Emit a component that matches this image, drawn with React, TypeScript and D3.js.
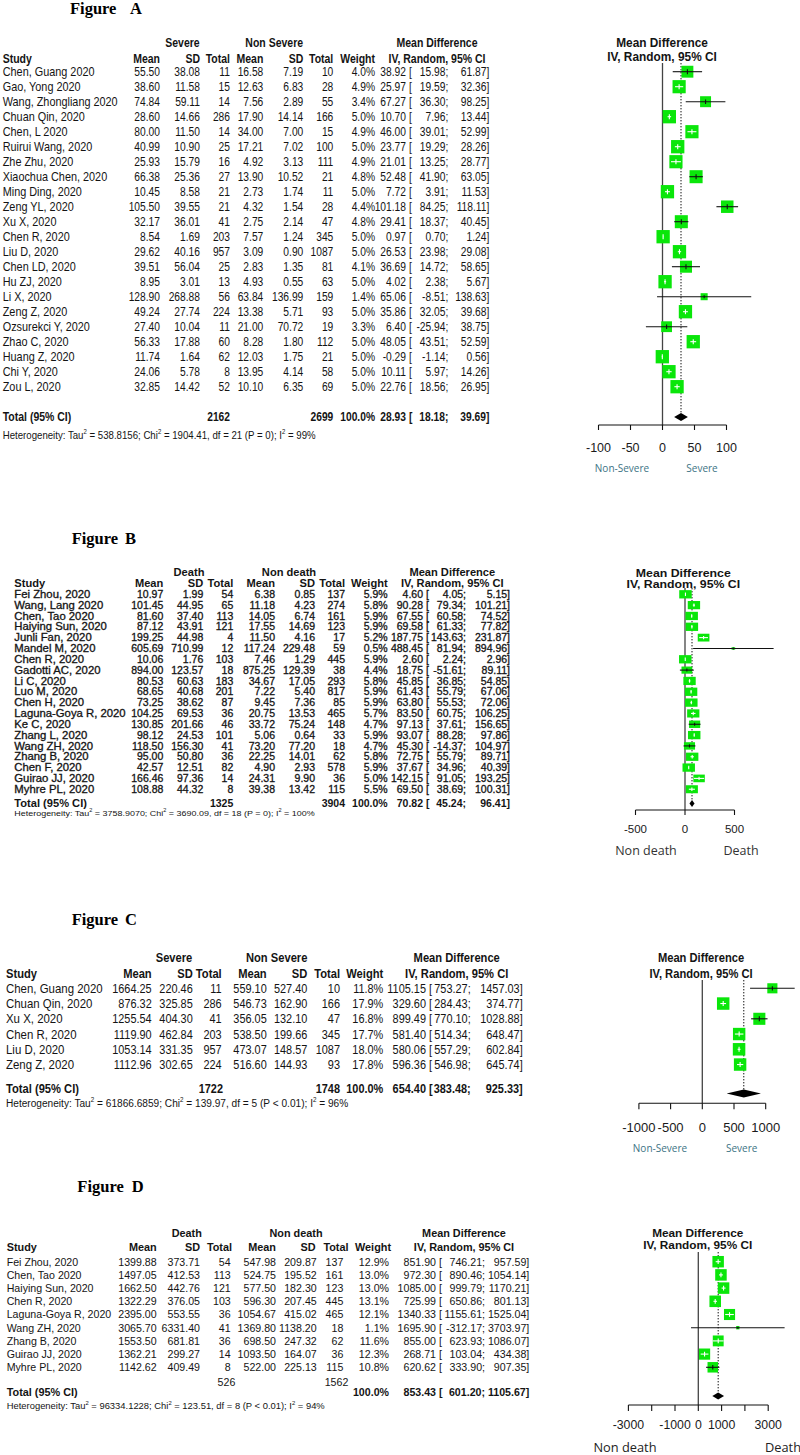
import React from "react";
import * as d3 from "d3";

// ---------------- Panel A data (Severe vs Non Severe) ----------------
const studiesA = ["Chen, Guang 2020", "Gao, Yong 2020", "Wang, Zhongliang 2020", "Chuan Qin, 2020", "Chen, L 2020", "Ruirui Wang, 2020", "Zhe Zhu, 2020", "Xiaochua Chen, 2020", "Ming Ding, 2020", "Zeng YL, 2020", "Xu X, 2020", "Chen R, 2020", "Liu D, 2020", "Chen LD, 2020", "Hu ZJ, 2020", "Li X, 2020", "Zeng Z, 2020", "Ozsurekci Y, 2020", "Zhao C, 2020", "Huang Z, 2020", "Chi Y, 2020", "Zou L, 2020"];
const meanEA = [55.5, 38.6, 74.84, 28.6, 80.0, 40.99, 25.93, 66.38, 10.45, 105.5, 32.17, 8.54, 29.62, 39.51, 8.95, 128.9, 49.24, 27.4, 56.33, 11.74, 24.06, 32.85];
const sdEA = [38.08, 11.58, 59.11, 14.66, 11.5, 10.9, 15.79, 25.36, 8.58, 39.55, 36.01, 1.69, 40.16, 56.04, 3.01, 268.88, 27.74, 10.04, 17.88, 1.64, 5.78, 14.42];
const nEA = [11, 15, 14, 286, 14, 25, 16, 27, 21, 21, 41, 203, 957, 25, 13, 56, 224, 11, 60, 62, 8, 52];
const meanCA = [16.58, 12.63, 7.56, 17.9, 34.0, 17.21, 4.92, 13.9, 2.73, 4.32, 2.75, 7.57, 3.09, 2.83, 4.93, 63.84, 13.38, 21.0, 8.28, 12.03, 13.95, 10.1];
const sdCA = [7.19, 6.83, 2.89, 14.14, 7.0, 7.02, 3.13, 10.52, 1.74, 1.54, 2.14, 1.24, 0.9, 1.35, 0.55, 136.99, 5.71, 70.72, 1.8, 1.75, 4.14, 6.35];
const nCA = [10, 28, 55, 166, 15, 100, 111, 21, 11, 28, 47, 345, 1087, 81, 63, 159, 93, 19, 112, 21, 58, 69];
const weightA = [4.0, 4.9, 3.4, 5.0, 4.9, 5.0, 4.9, 4.8, 5.0, 4.4, 4.8, 5.0, 5.0, 4.1, 5.0, 1.4, 5.0, 3.3, 5.0, 5.0, 5.0, 5.0];
const mdA = [38.92, 25.97, 67.27, 10.7, 46.0, 23.77, 21.01, 52.48, 7.72, 101.18, 29.41, 0.97, 26.53, 36.69, 4.02, 65.06, 35.86, 6.4, 48.05, -0.29, 10.11, 22.76];
const loA = [15.98, 19.59, 36.3, 7.96, 39.01, 19.29, 13.25, 41.9, 3.91, 84.25, 18.37, 0.7, 23.98, 14.72, 2.38, -8.51, 32.05, -25.94, 43.51, -1.14, 5.97, 18.56];
const hiA = [61.87, 32.36, 98.25, 13.44, 52.99, 28.26, 28.77, 63.05, 11.53, 118.11, 40.45, 1.24, 29.08, 58.65, 5.67, 138.63, 39.68, 38.75, 52.59, 0.56, 14.26, 26.95];
const totalsA = [2162, 2699];
const summaryA = [28.93, 18.18, 39.69];
const hetA = ["Heterogeneity: Tau", "2", " = 538.8156; Chi", "2", " = 1904.41, df = 21 (P = 0); I", "2", " = 99%"];
const ticksA = [-100, -50, 0, 50, 100];
const tickLabelsA = [-100, -50, 0, 50, 100];

// ---------------- Panel B data (Death vs Non death) ----------------
const studiesB = ["Fei Zhou, 2020", "Wang, Lang 2020", "Chen, Tao 2020", "Haiying Sun, 2020", "Junli Fan, 2020", "Mandel M, 2020", "Chen R, 2020", "Gadotti AC, 2020", "Li C, 2020", "Luo M, 2020", "Chen H, 2020", "Laguna-Goya R, 2020", "Ke C, 2020", "Zhang L, 2020", "Wang ZH, 2020", "Zhang B, 2020", "Chen F, 2020", "Guirao JJ, 2020", "Myhre PL, 2020"];
const meanEB = [10.97, 101.45, 81.6, 87.12, 199.25, 605.69, 10.06, 894.0, 80.53, 68.65, 73.25, 104.25, 130.85, 98.12, 118.5, 95.0, 42.57, 166.46, 108.88];
const sdEB = [1.99, 44.95, 37.4, 43.91, 44.98, 710.99, 1.76, 123.57, 60.63, 40.68, 38.62, 69.53, 201.66, 24.53, 156.3, 50.8, 12.51, 97.36, 44.32];
const nEB = [54, 65, 113, 121, 4, 12, 103, 18, 183, 201, 87, 36, 46, 101, 41, 36, 82, 14, 8];
const meanCB = [6.38, 11.18, 14.05, 17.55, 11.5, 117.24, 7.46, 875.25, 34.67, 7.22, 9.45, 20.75, 33.72, 5.06, 73.2, 22.25, 4.9, 24.31, 39.38];
const sdCB = [0.85, 4.23, 6.74, 14.69, 4.16, 229.48, 1.29, 129.39, 17.05, 5.4, 7.36, 13.53, 75.24, 0.64, 77.2, 14.01, 2.93, 9.9, 13.42];
const nCB = [137, 274, 161, 123, 17, 59, 445, 38, 293, 817, 85, 465, 148, 33, 18, 62, 578, 36, 115];
const weightB = [5.9, 5.8, 5.9, 5.9, 5.2, 0.5, 5.9, 4.4, 5.8, 5.9, 5.9, 5.7, 4.7, 5.9, 4.7, 5.8, 5.9, 5.0, 5.5];
const mdB = [4.6, 90.28, 67.55, 69.58, 187.75, 488.45, 2.6, 18.75, 45.85, 61.43, 63.8, 83.5, 97.13, 93.07, 45.3, 72.75, 37.67, 142.15, 69.5];
const loB = [4.05, 79.34, 60.58, 61.33, 143.63, 81.94, 2.24, -51.61, 36.85, 55.79, 55.53, 60.75, 37.61, 88.28, -14.37, 55.79, 34.96, 91.05, 38.69];
const hiB = [5.15, 101.21, 74.52, 77.82, 231.87, 894.96, 2.96, 89.11, 54.85, 67.06, 72.06, 106.25, 156.65, 97.86, 104.97, 89.71, 40.39, 193.25, 100.31];
const totalsB = [1325, 3904];
const summaryB = [70.82, 45.24, 96.41];
const hetB = ["Heterogeneity: Tau", "2", " = 3758.9070; Chi", "2", " = 3690.09, df = 18 (P = 0); I", "2", " = 100%"];
const ticksB = [-500, 0, 500];
const tickLabelsB = [-500, 0, 500];

// ---------------- Panel C data (Severe vs Non Severe) ----------------
const studiesC = ["Chen, Guang 2020", "Chuan Qin, 2020", "Xu X, 2020", "Chen R, 2020", "Liu D, 2020", "Zeng Z, 2020"];
const meanEC = [1664.25, 876.32, 1255.54, 1119.9, 1053.14, 1112.96];
const sdEC = [220.46, 325.85, 404.3, 462.84, 331.35, 302.65];
const nEC = [11, 286, 41, 203, 957, 224];
const meanCC = [559.1, 546.73, 356.05, 538.5, 473.07, 516.6];
const sdCC = [527.4, 162.9, 132.1, 199.66, 148.57, 144.93];
const nCC = [10, 166, 47, 345, 1087, 93];
const weightC = [11.8, 17.9, 16.8, 17.7, 18.0, 17.8];
const mdC = [1105.15, 329.6, 899.49, 581.4, 580.06, 596.36];
const loC = [753.27, 284.43, 770.1, 514.34, 557.29, 546.98];
const hiC = [1457.03, 374.77, 1028.88, 648.47, 602.84, 645.74];
const totalsC = [1722, 1748];
const summaryC = [654.4, 383.48, 925.33];
const hetC = ["Heterogeneity: Tau", "2", " = 61866.6859; Chi", "2", " = 139.97, df = 5 (P < 0.01); I", "2", " = 96%"];
const ticksC = [-1000, -500, 0, 500, 1000];
const tickLabelsC = [-1000, -500, 0, 500, 1000];

// ---------------- Panel D data (Death vs Non death) ----------------
const studiesD = ["Fei Zhou, 2020", "Chen, Tao 2020", "Haiying Sun, 2020", "Chen R, 2020", "Laguna-Goya R, 2020", "Wang ZH, 2020", "Zhang B, 2020", "Guirao JJ, 2020", "Myhre PL, 2020"];
const meanED = [1399.88, 1497.05, 1662.5, 1322.29, 2395.0, 3065.7, 1553.5, 1362.21, 1142.62];
const sdED = [373.71, 412.53, 442.76, 376.05, 553.55, 6331.4, 681.81, 299.27, 409.49];
const nED = [54, 113, 121, 103, 36, 41, 36, 14, 8];
const meanCD = [547.98, 524.75, 577.5, 596.3, 1054.67, 1369.8, 698.5, 1093.5, 522.0];
const sdCD = [209.87, 195.52, 182.3, 207.45, 415.02, 1138.2, 247.32, 164.07, 225.13];
const nCD = [137, 161, 123, 445, 465, 18, 62, 36, 115];
const weightD = [12.9, 13.0, 13.0, 13.1, 12.1, 1.1, 11.6, 12.3, 10.8];
const mdD = [851.9, 972.3, 1085.0, 725.99, 1340.33, 1695.9, 855.0, 268.71, 620.62];
const loD = [746.21, 890.46, 999.79, 650.86, 1155.61, -312.17, 623.93, 103.04, 333.9];
const hiD = [957.59, 1054.14, 1170.21, 801.13, 1525.04, 3703.97, 1086.07, 434.38, 907.35];
const totalsD = [526, 1562];
const summaryD = [853.43, 601.2, 1105.67];
const hetD = ["Heterogeneity: Tau", "2", " = 96334.1228; Chi", "2", " = 123.51, df = 8 (P < 0.01); I", "2", " = 94%"];
const ticksD = [-3000, -2000, -1000, 0, 1000, 2000, 3000];
const tickLabelsD = [-3000, -1000, 0, 1000, 3000];

const headerCols = ["Mean", "SD", "Total", "Mean", "SD", "Total", "Weight"];

const SANS = "'Liberation Sans', Arial, Helvetica, sans-serif";
const SERIF = "'Liberation Serif', 'Times New Roman', serif";
const SOFT = "'Open Sans', 'Noto Sans', sans-serif";
const TXT = "#141414";
const GREEN = "#0ae60a";

const f2 = (v: number) => v.toFixed(2);

function Txt({ x, y, sx = 1, size, anchor = "start", bold = false, fill = TXT, family = SANS, heavy = 0, children }: any) {
  return (
    <text
      transform={`translate(${x},${y + size * 0.35}) scale(${sx},1)`}
      fontSize={size}
      textAnchor={anchor}
      fontWeight={bold ? 700 : 400}
      fill={fill}
      stroke={heavy > 0 ? fill : undefined}
      strokeWidth={heavy > 0 ? heavy : undefined}
      fontFamily={family}
      style={{ whiteSpace: "pre" }}
    >
      {children}
    </text>
  );
}

function Het({ x, y, size, sx, parts }: any) {
  return (
    <text
      transform={`translate(${x},${y + size * 0.35}) scale(${sx},1)`}
      fontSize={size}
      fill={TXT}
      fontFamily={SANS}
      style={{ whiteSpace: "pre" }}
    >
      {parts.map((p: string, i: number) =>
        i % 2 === 1 ? (
          <tspan key={i} dy={-size * 0.42} fontSize={size * 0.62}>{p}</tspan>
        ) : (
          <tspan key={i} dy={i === 0 ? undefined : size * 0.42}>{p}</tspan>
        )
      )}
    </text>
  );
}

function Panel({ d, t, p }: any) {
  const x = d3.scaleLinear().domain(p.domain).range(p.range);
  const rowY = (i: number) => t.row0 + i * t.rowH;
  const cols: string[][] = [
    d.meanE.map(f2), d.sdE.map(f2), d.nE.map(String),
    d.meanC.map(f2), d.sdC.map(f2), d.nC.map(String),
    d.weight.map((w: number) => w.toFixed(1) + "%"),
  ];
  const [sm, slo, shi] = d.summary;
  const dTop = p.diamondY - p.diamondH / 2;
  const hv = t.heavy || 0;

  return (
    <g>
      {/* Title */}
      <text x={t.titleX} y={t.titleY} fontFamily={SERIF} fontWeight="bold" fontSize={16.5} fill="#000">Figure</text>
      <text x={t.titleLX} y={t.titleY} fontFamily={SERIF} fontWeight="bold" fontSize={16.5} fill="#000">{d.label}</text>

      {/* Table header */}
      <Txt x={t.grp1X} y={t.h1Y} sx={t.hsx} size={t.size} anchor="middle" bold>{d.groupE}</Txt>
      <Txt x={t.grp2X} y={t.h1Y} sx={t.hsx} size={t.size} anchor="middle" bold>{d.groupC}</Txt>
      <Txt x={t.mdX} y={t.h1Y} sx={t.hsx} size={t.size} anchor="middle" bold>Mean Difference</Txt>
      <Txt x={t.studyX} y={t.h2Y} sx={t.hsx} size={t.size} bold>Study</Txt>
      {headerCols.map((h, k) => (
        <Txt key={k} x={t.hColX[k]} y={t.h2Y} sx={t.hsx} size={t.size} anchor="end" bold>{h}</Txt>
      ))}
      <Txt x={t.mdX} y={t.h2Y} sx={t.hsx} size={t.size} anchor="middle" bold>IV, Random, 95% CI</Txt>

      {/* Rows */}
      {d.study.map((s: string, i: number) => (
        <g key={i}>
          <Txt x={t.studyX} y={rowY(i)} sx={t.sx} size={t.size} heavy={hv}>{s}</Txt>
          {cols.map((c, k) => (
            <Txt key={k} x={t.colX[k]} y={rowY(i)} sx={t.nsx} size={t.size} anchor="end" heavy={hv}>{c[i]}</Txt>
          ))}
          <Txt x={t.estX} y={rowY(i)} sx={t.nsx} size={t.size} anchor="end" heavy={hv}>{f2(d.md[i])}</Txt>
          <Txt x={t.brX} y={rowY(i)} sx={t.nsx} size={t.size} heavy={hv}>[</Txt>
          <Txt x={t.loX} y={rowY(i)} sx={t.nsx} size={t.size} anchor="end" heavy={hv}>{f2(d.lo[i]) + ";"}</Txt>
          <Txt x={t.hiX} y={rowY(i)} sx={t.nsx} size={t.size} anchor="end" heavy={hv}>{f2(d.hi[i]) + "]"}</Txt>
        </g>
      ))}

      {/* Total row */}
      <Txt x={t.studyX} y={t.totalY} sx={t.hsx} size={t.size} bold>Total (95% CI)</Txt>
      <Txt x={t.totNEx} y={t.totNY} sx={t.nsx} size={t.size} anchor="end" bold={t.totNBold}>{String(d.totals[0])}</Txt>
      <Txt x={t.totNCx} y={t.totNY} sx={t.nsx} size={t.size} anchor="end" bold={t.totNBold}>{String(d.totals[1])}</Txt>
      <Txt x={t.colX[6]} y={t.totalY} sx={t.nsx} size={t.size} anchor="end" bold>100.0%</Txt>
      <Txt x={t.estX} y={t.totalY} sx={t.nsx} size={t.size} anchor="end" bold>{f2(sm)}</Txt>
      <Txt x={t.brX} y={t.totalY} sx={t.nsx} size={t.size} bold>[</Txt>
      <Txt x={t.loX} y={t.totalY} sx={t.nsx} size={t.size} anchor="end" bold>{f2(slo) + ";"}</Txt>
      <Txt x={t.hiX} y={t.totalY} sx={t.nsx} size={t.size} anchor="end" bold>{f2(shi) + "]"}</Txt>
      <Het x={t.studyX} y={t.hetY} size={t.hetSize} sx={t.hetSx} parts={d.het} />

      {/* Forest plot header */}
      <Txt x={p.headerX} y={p.hY1} sx={p.hSx} size={p.hSize} anchor="middle" bold>Mean Difference</Txt>
      <Txt x={p.headerX} y={p.hY2} sx={p.hSx} size={p.hSize} anchor="middle" bold>IV, Random, 95% CI</Txt>

      {/* zero line */}
      <line x1={x(0)} x2={x(0)} y1={p.topY} y2={p.axisY} stroke="#444" strokeWidth={1.3} />
      {/* summary dotted line */}
      <line x1={x(sm)} x2={x(sm)} y1={p.topY} y2={dTop} stroke="#111" strokeWidth={1} strokeDasharray="1.4 1.6" />

      {/* study marks */}
      {d.study.map((s: string, i: number) => {
        const cy = rowY(i);
        const cx = x(d.md[i]);
        const h = p.sqBase * Math.sqrt(d.weight[i] / p.sqRef);
        const w = h * p.sqAspect;
        const xl = x(d.lo[i]);
        const xh = x(d.hi[i]);
        const inside = xl >= cx - w / 2 && xh <= cx + w / 2;
        const col = inside ? "#ffffff" : "#111111";
        const tick = Math.max(2, Math.min(h * 0.42, 5));
        return (
          <g key={i}>
            <rect x={cx - w / 2} y={cy - h / 2} width={w} height={h} fill={GREEN} />
            <line x1={xl} x2={xh} y1={cy} y2={cy} stroke={col} strokeWidth={1.1} />
            <line x1={cx} x2={cx} y1={cy - tick / 2} y2={cy + tick / 2} stroke={col} strokeWidth={1.1} />
          </g>
        );
      })}

      {/* summary diamond */}
      <path
        d={`M${x(slo)},${p.diamondY} L${x(sm)},${p.diamondY - p.diamondH / 2} L${x(shi)},${p.diamondY} L${x(sm)},${p.diamondY + p.diamondH / 2} Z`}
        fill="#000"
      />

      {/* axis */}
      <line x1={x(p.ticks[0])} x2={x(p.ticks[p.ticks.length - 1])} y1={p.axisY} y2={p.axisY} stroke="#111" strokeWidth={1.1} />
      {p.ticks.map((tk: number) => (
        <line key={tk} x1={x(tk)} x2={x(tk)} y1={p.axisY} y2={p.axisY + p.tickLen} stroke="#111" strokeWidth={1.1} />
      ))}
      {p.tickLabels.map((tk: number) => (
        <Txt key={tk} x={x(tk)} y={p.tickLabelY} size={p.tickSize} anchor="middle" fill="#1a1a1a">{String(tk)}</Txt>
      ))}
      <Txt x={p.leftLblX} y={p.lblY} size={p.lblSize} anchor="middle" fill={p.lblColor} family={SOFT}>{d.leftLabel}</Txt>
      <Txt x={p.rightLblX} y={p.lblY} size={p.lblSize} anchor="middle" fill={p.lblColor} family={SOFT}>{d.rightLabel}</Txt>
    </g>
  );
}

const dataA = { label: "A", groupE: "Severe", groupC: "Non Severe", study: studiesA, meanE: meanEA, sdE: sdEA, nE: nEA, meanC: meanCA, sdC: sdCA, nC: nCA, weight: weightA, md: mdA, lo: loA, hi: hiA, totals: totalsA, summary: summaryA, het: hetA, leftLabel: "Non-Severe", rightLabel: "Severe" };
const dataB = { label: "B", groupE: "Death", groupC: "Non death", study: studiesB, meanE: meanEB, sdE: sdEB, nE: nEB, meanC: meanCB, sdC: sdCB, nC: nCB, weight: weightB, md: mdB, lo: loB, hi: hiB, totals: totalsB, summary: summaryB, het: hetB, leftLabel: "Non death", rightLabel: "Death" };
const dataC = { label: "C", groupE: "Severe", groupC: "Non Severe", study: studiesC, meanE: meanEC, sdE: sdEC, nE: nEC, meanC: meanCC, sdC: sdCC, nC: nCC, weight: weightC, md: mdC, lo: loC, hi: hiC, totals: totalsC, summary: summaryC, het: hetC, leftLabel: "Non-Severe", rightLabel: "Severe" };
const dataD = { label: "D", groupE: "Death", groupC: "Non death", study: studiesD, meanE: meanED, sdE: sdED, nE: nED, meanC: meanCD, sdC: sdCD, nC: nCD, weight: weightD, md: mdD, lo: loD, hi: hiD, totals: totalsD, summary: summaryD, het: hetD, leftLabel: "Non death", rightLabel: "Death" };

const tabA = { titleX: 70, titleLX: 130, titleY: 14, size: 12.5, sx: 0.87, nsx: 0.82, hsx: 0.84, studyX: 2.7, colX: [160, 200, 230, 263.3, 303.3, 333.3, 375], hColX: [160, 200, 230, 263.3, 303.3, 333.3, 375], estX: 406, brX: 409, loX: 448.3, hiX: 489.3, grp1X: 182.5, grp2X: 274.2, mdX: 437, h1Y: 42.3, h2Y: 58.3, row0: 71.7, rowH: 15.0, totalY: 416.7, totNY: 416.7, totNEx: 230, totNCx: 333.3, totNBold: true, hetY: 435, hetSize: 11.1, hetSx: 0.87 };
const plotA = { domain: [-100, 100], range: [598.5, 726.5], ticks: ticksA, tickLabels: tickLabelsA, axisY: 425, tickLen: 5, tickLabelY: 447.5, tickSize: 12.5, topY: 63, headerX: 662, hY1: 42.7, hY2: 56.7, hSize: 12.5, hSx: 0.95, diamondY: 417, diamondH: 8, sqBase: 13.3, sqRef: 5, sqAspect: 1, leftLblX: 622, rightLblX: 702, lblY: 468, lblSize: 10, lblColor: "#3d7385" };

const tabB = { titleX: 71.7, titleLX: 125, titleY: 544, size: 10.3, sx: 1.1, nsx: 1.02, hsx: 1.08, heavy: 0.3, studyX: 14.3, colX: [163.3, 203.3, 233.3, 275, 315, 345, 387.7], hColX: [163.3, 203.3, 233.3, 275, 315, 345, 387.7], estX: 423, brX: 426, loX: 466, hiX: 510, grp1X: 189, grp2X: 289, mdX: 452.3, h1Y: 572.7, h2Y: 583.3, row0: 594.3, rowH: 10.83, totalY: 803.3, totNY: 803.3, totNEx: 233.3, totNCx: 345, totNBold: true, hetY: 813, hetSize: 8, hetSx: 1.12 };
const plotB = { domain: [-500, 500], range: [635.5, 734.5], ticks: ticksB, tickLabels: tickLabelsB, axisY: 810, tickLen: 5, tickLabelY: 829, tickSize: 11.5, topY: 588, headerX: 683.3, hY1: 572.7, hY2: 584, hSize: 11, hSx: 1.12, diamondY: 803.5, diamondH: 7, sqBase: 8.3, sqRef: 5.9, sqAspect: 1.5, leftLblX: 646, rightLblX: 741, lblY: 851, lblSize: 12.5, lblColor: "#333333" };

const tabC = { titleX: 71.7, titleLX: 125, titleY: 925, size: 13, sx: 0.88, nsx: 0.84, hsx: 0.86, studyX: 6, colX: [151.7, 192.7, 221.7, 266.7, 307.3, 340, 383.3], hColX: [151.7, 192.7, 221.7, 266.7, 307.3, 340, 383.3], estX: 426, brX: 429, loX: 470.7, hiX: 522.7, grp1X: 174, grp2X: 276.7, mdX: 456.7, h1Y: 957.3, h2Y: 973.3, row0: 988.3, rowH: 15.25, totalY: 1088.5, totNY: 1088.5, totNEx: 223, totNCx: 340, totNBold: true, hetY: 1103, hetSize: 11.5, hetSx: 0.88 };
const plotC = { domain: [-1000, 1000], range: [638.9, 765.7], ticks: ticksC, tickLabels: tickLabelsC, axisY: 1103.3, tickLen: 6, tickLabelY: 1127.3, tickSize: 13, topY: 980, headerX: 701, hY1: 957.3, hY2: 973.3, hSize: 13, hSx: 0.86, diamondY: 1093.5, diamondH: 8, sqBase: 12.5, sqRef: 18, sqAspect: 1, leftLblX: 660, rightLblX: 741.7, lblY: 1148.3, lblSize: 10, lblColor: "#3d7385" };

const tabD = { titleX: 77.3, titleLX: 131.7, titleY: 1192, size: 11.2, sx: 0.95, nsx: 0.95, hsx: 0.97, studyX: 6.7, colX: [156.7, 200, 230.7, 276, 316.7, 343.3, 389], hColX: [156.7, 200, 232, 276, 315.5, 348.5, 391], estX: 436, brX: 439, loX: 485, hiX: 529.3, grp1X: 186.7, grp2X: 296, mdX: 464, h1Y: 1233.3, h2Y: 1247.3, row0: 1261.7, rowH: 13.2, totalY: 1392, totNY: 1382, totNEx: 235.3, totNCx: 348.3, totNBold: false, hetY: 1405.5, hetSize: 9.7, hetSx: 0.97 };
const plotD = { domain: [-3000, 3000], range: [628.4, 768.2], ticks: ticksD, tickLabels: tickLabelsD, axisY: 1405, tickLen: 6, tickLabelY: 1425, tickSize: 12.3, topY: 1252, headerX: 697.7, hY1: 1233.3, hY2: 1244.5, hSize: 11.8, hSx: 1, diamondY: 1396, diamondH: 7, sqBase: 11.5, sqRef: 13, sqAspect: 1, leftLblX: 625, rightLblX: 783, lblY: 1448, lblSize: 12.8, lblColor: "#222222" };

export default function App() {
  return (
    <div style={{ position: "absolute", left: 0, top: 0, width: 800, height: 1455, background: "#fff" }}>
      <svg width={800} height={1455} viewBox="0 0 800 1455" style={{ display: "block" }}>
        <rect x={0} y={0} width={800} height={1455} fill="#fff" />
        <Panel d={dataA} t={tabA} p={plotA} />
        <Panel d={dataB} t={tabB} p={plotB} />
        <Panel d={dataC} t={tabC} p={plotC} />
        <Panel d={dataD} t={tabD} p={plotD} />
      </svg>
    </div>
  );
}
